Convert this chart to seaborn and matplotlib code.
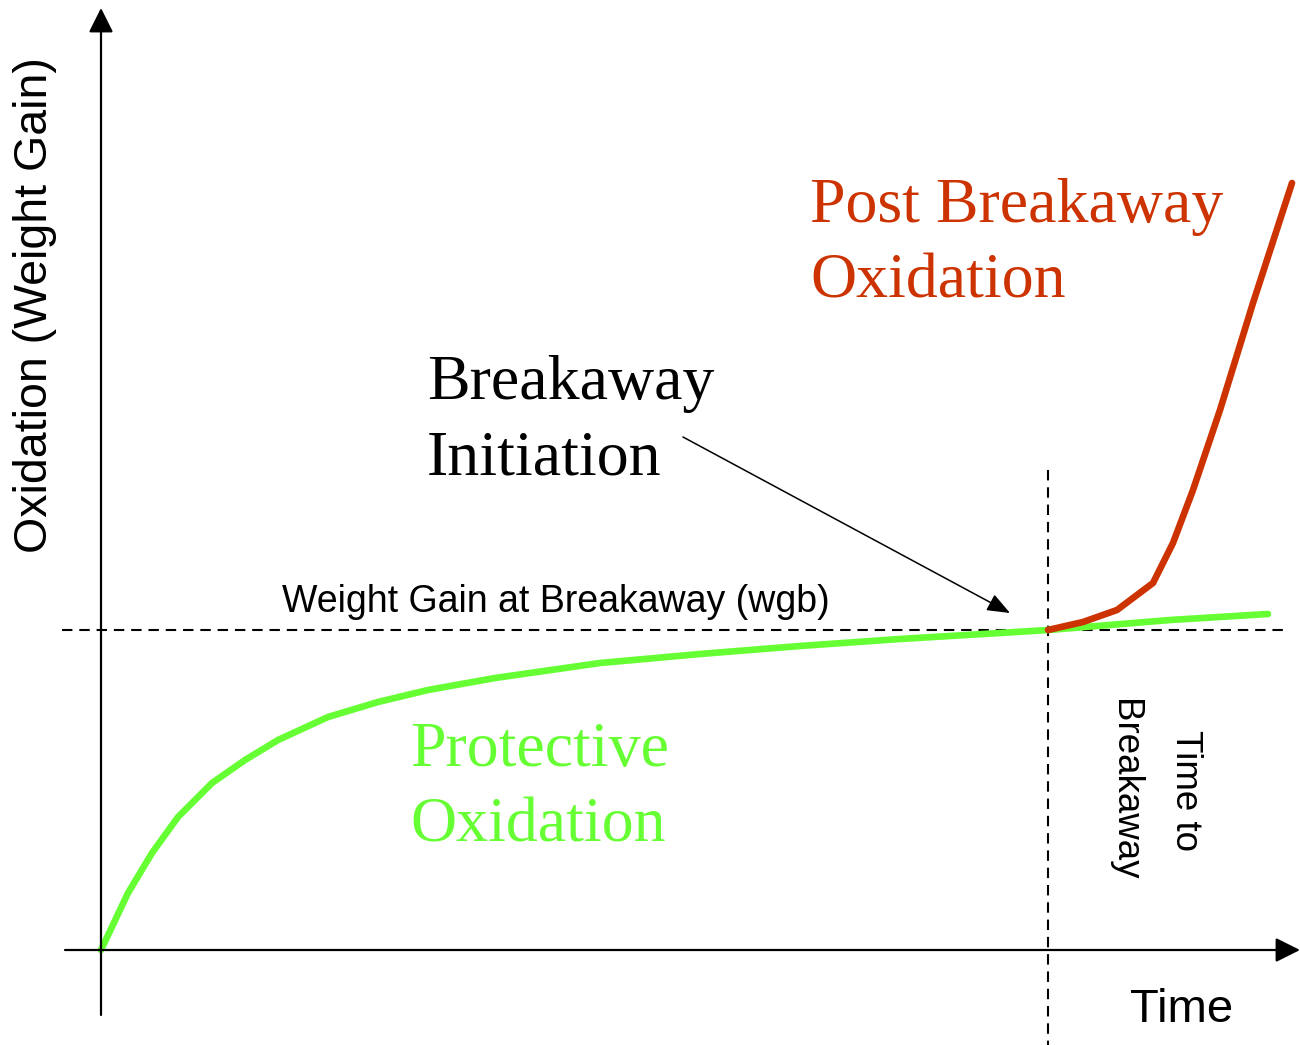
import matplotlib
matplotlib.use("Agg")
import matplotlib.pyplot as plt
import seaborn as sns
import pandas as pd

# schematic curves (time, weight gain) in arbitrary units
protective_time = [0, 27, 51, 77, 111, 144, 177, 227, 277, 327, 394, 499, 599, 699, 799, 899, 947, 1069, 1167]
protective_gain = [0, 57, 97, 133, 167, 190, 210, 233, 248, 260, 272, 287, 296, 304, 311, 317, 320, 330, 336]
post_time = [947, 982, 1016, 1052, 1072, 1092, 1119, 1152, 1191]
post_gain = [320, 328, 340, 367, 407, 460, 540, 647, 767]
wgb = 320
t_breakaway = 947

green = "#66FF33"
red = "#CC3300"

sns.set_style("white")
fig = plt.figure(figsize=(13, 10.45), dpi=100)
ax = fig.add_axes([0, 0, 1, 1])
ax.set_xlim(-101, 1199)
ax.set_ylim(-95, 950)
ax.axis("off")

df_p = pd.DataFrame({"t": protective_time, "w": protective_gain})
df_b = pd.DataFrame({"t": post_time, "w": post_gain})
sns.lineplot(data=df_p, x="t", y="w", color=green, lw=4.8, sort=False, ax=ax, zorder=3)
sns.lineplot(data=df_b, x="t", y="w", color=red, lw=4.8, sort=False, ax=ax, zorder=4)

# reference lines
ax.plot([-39, 1184], [wgb, wgb], color="black", lw=1.5, ls=(0, (5, 3.3)), zorder=2)
ax.plot([t_breakaway, t_breakaway], [480, -95], color="black", lw=1.5, ls=(0, (5, 3.3)), zorder=2)

# axes with arrow heads
head = "-|>,head_length=1.5,head_width=0.75"
ax.annotate("", xy=(1199, 0), xytext=(-36, 0),
            arrowprops=dict(arrowstyle=head, color="black", lw=1.6, shrinkA=0, shrinkB=0),
            annotation_clip=False)
ax.annotate("", xy=(0, 942), xytext=(0, -65),
            arrowprops=dict(arrowstyle=head, color="black", lw=1.6, shrinkA=0, shrinkB=0),
            annotation_clip=False)

# pointer to breakaway
ax.annotate("", xy=(909, 337), xytext=(582, 513),
            arrowprops=dict(arrowstyle="-|>,head_length=1.4,head_width=0.55", color="black", lw=1.1,
                            shrinkA=0, shrinkB=0))

sans = "Liberation Sans"
serif = "Liberation Serif"

ax.text(-66, 645, "Oxidation (Weight Gain)", rotation=90, ha="center", va="center",
        fontsize=33.5, family=sans, color="black")
ax.text(1029, -72, "Time", ha="left", va="baseline", fontsize=34, family=sans, color="black")
ax.text(181, 338, "Weight Gain at Breakaway (wgb)", ha="left", va="baseline", fontsize=27,
        family=sans, color="black")
ax.text(1054, 160, "Time to\nBreakaway", rotation=270, ha="center", va="center",
        fontsize=26.5, family=sans, linespacing=2.0, multialignment="center", color="black")

ax.text(709, 772, "Post Breakaway\nOxidation", ha="left", va="top", fontsize=46,
        family=serif, color=red, linespacing=1.4)
ax.text(326, 595, "Breakaway\nInitiation", ha="left", va="top", fontsize=46,
        family=serif, color="black", linespacing=1.4)
ax.text(309, 228, "Protective\nOxidation", ha="left", va="top", fontsize=46,
        family=serif, color=green, linespacing=1.4)

fig.savefig("out.png", dpi=100)
